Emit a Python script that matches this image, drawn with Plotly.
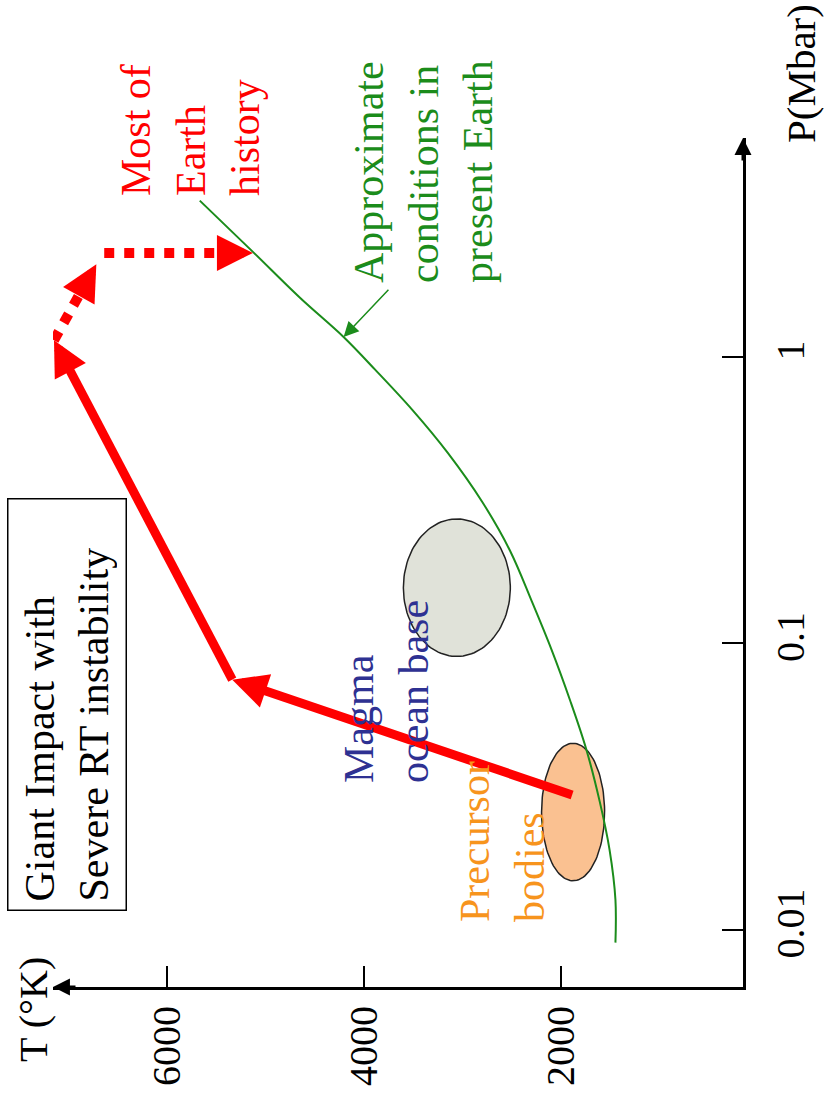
import numpy as np
import plotly.graph_objects as go

# ---- data -------------------------------------------------------------
# axis ticks: temperature (K) and pressure (Mbar, log scale)
t_ticks = [2000, 4000, 6000]
p_ticks = [0.01, 0.1, 1]
p_tick_text = ["0.01", "0.1", "1"]

# approximate conditions in the present Earth
present_T = [5670, 5120, 4650, 4210, 3890, 3510, 3150, 2800, 2520,
             2300, 2100, 1910, 1750, 1610, 1510, 1450, 1450]
present_P = [3.5, 2.3, 1.6, 1.17, 0.90, 0.65, 0.46, 0.31, 0.21,
             0.14, 0.095, 0.063, 0.043, 0.028, 0.019, 0.0127, 0.009]

# giant impact path: precursor bodies -> magma ocean base -> peak
impact_T = [1890, 5340, 7150]
impact_P = [0.0295, 0.0745, 1.14]
# afterwards (dotted)
rebound_T = [7150, 6720]
rebound_P = [1.14, 2.10]
cooling_T = [6640, 5130]
cooling_P = [2.30, 2.30]

# pointer from the green label to the curve
pointer_T = [3740, 4210]
pointer_P = [1.73, 1.17]

# regions: centre T, centre P, half-width in K, half-height in decades of P
precursor_region = dict(T=1880, P=0.0257, dT=320, dlogP=0.24)
magma_region = dict(T=3060, P=0.156, dT=543, dlogP=0.24)

# ---- layout constants -------------------------------------------------
W, H = 829, 1100
M_L, M_R, M_T, M_B = 53, 86, 138, 113
PW, PH = W - M_L - M_R, H - M_T - M_B
X_RANGE = [7160, 155]          # temperature increases to the left
Y_RANGE = [-2.2007, 0.7627]    # log10(P)

RED = "#ff0000"
GREEN = "#1b8c1b"
ORANGE = "#f7941d"
NAVY = "#2e3192"
FONT = "Liberation Serif"


def to_px(T, P):
    x = M_L + (T - X_RANGE[0]) / (X_RANGE[1] - X_RANGE[0]) * PW
    y = M_T + (Y_RANGE[1] - np.log10(P)) / (Y_RANGE[1] - Y_RANGE[0]) * PH
    return x, y


def from_px(x, y):
    T = X_RANGE[0] + (x - M_L) / PW * (X_RANGE[1] - X_RANGE[0])
    lp = Y_RANGE[1] - (y - M_T) / PH * (Y_RANGE[1] - Y_RANGE[0])
    return T, 10 ** lp


def shortened(T0, P0, T1, P1, back):
    """End point pulled back `back` pixels from (T1, P1) toward (T0, P0)."""
    x0, y0 = to_px(T0, P0)
    x1, y1 = to_px(T1, P1)
    L = np.hypot(x1 - x0, y1 - y0)
    f = 1 - back / L
    return from_px(x0 + f * (x1 - x0), y0 + f * (y1 - y0))


def head(T0, P0, T1, P1, color, width, size):
    """Arrowhead only, pointing from (T0, P0) to (T1, P1)."""
    x0, y0 = to_px(T0, P0)
    x1, y1 = to_px(T1, P1)
    L = np.hypot(x1 - x0, y1 - y0)
    return dict(x=T1, y=np.log10(P1), xref="x", yref="y", text="",
                showarrow=True, ax=(x0 - x1) / L * 20, ay=(y0 - y1) / L * 20,
                arrowhead=2, arrowsize=size, arrowwidth=width,
                arrowcolor=color)


def ellipse(region, n=120):
    t = np.linspace(0, 2 * np.pi, n)
    T = region["T"] + region["dT"] * np.cos(t)
    P = 10 ** (np.log10(region["P"]) + region["dlogP"] * np.sin(t))
    return T, P


fig = go.Figure()

# regions
for reg, fill in [(magma_region, "#e0e2d9"), (precursor_region, "#fac191")]:
    eT, eP = ellipse(reg)
    fig.add_trace(go.Scatter(x=eT, y=eP, mode="lines", fill="toself",
                             fillcolor=fill,
                             line=dict(color="#222222", width=1.5),
                             hoverinfo="skip"))

# present-Earth curve
fig.add_trace(go.Scatter(x=present_T, y=present_P, mode="lines",
                         line=dict(color=GREEN, width=2, shape="spline",
                                   smoothing=1.0),
                         hoverinfo="skip"))

# impact path: two solid legs, each ending under its arrowhead
annotations = []
for i in range(len(impact_T) - 1):
    Te, Pe = shortened(impact_T[i], impact_P[i],
                       impact_T[i + 1], impact_P[i + 1], 22)
    fig.add_trace(go.Scatter(x=[impact_T[i], Te], y=[impact_P[i], Pe],
                             mode="lines",
                             line=dict(color=RED, width=9),
                             hoverinfo="skip"))

# dotted legs
for Ts, Ps in [(rebound_T, rebound_P), (cooling_T, cooling_P)]:
    Te, Pe = shortened(Ts[0], Ps[0], Ts[1], Ps[1], 22)
    fig.add_trace(go.Scatter(x=[Ts[0], Te], y=[Ps[0], Pe], mode="lines",
                             line=dict(color=RED, width=10, dash="dot"),
                             hoverinfo="skip"))

# ---- text -------------------------------------------------------------
def label(text, xpx, ypx, color, size=42, **kw):
    d = dict(text=text, x=(xpx - M_L) / PW, y=(M_T + PH - ypx) / PH,
             xref="paper", yref="paper", xanchor="center", yanchor="middle",
             textangle=-90, showarrow=False, align="left",
             font=dict(family=FONT, size=size, color=color))
    d.update(kw)
    return d


annotations += [
    label("Most of<br>Earth<br>history", 191, 130, RED),
    label("Approximate<br>conditions in<br>present Earth", 424, 172, GREEN),
    label("Magma<br>ocean base", 386, 692, NAVY),
    label("Precursor<br>bodies", 502, 842, ORANGE),
    label("Giant Impact with<br>Severe RT instability", 67, 705, "black",
          bordercolor="black", borderwidth=1.5, borderpad=8, width=394),
    label("P(Mbar)", 801, 74, "black", size=41),
    label("T (°K)", 33, 1010, "black", size=40),
]

# arrowheads on the impact path
for i in range(len(impact_T) - 1):
    annotations.append(head(impact_T[i], impact_P[i], impact_T[i + 1],
                            impact_P[i + 1], RED, 9, 0.78))
for Ts, Ps in [(rebound_T, rebound_P), (cooling_T, cooling_P)]:
    annotations.append(head(Ts[0], Ps[0], Ts[1], Ps[1], RED, 9, 0.8))

# pointer to the present-Earth curve
annotations.append(dict(x=pointer_T[1], y=np.log10(pointer_P[1]),
                        ax=pointer_T[0], ay=np.log10(pointer_P[0]),
                        xref="x", yref="y", axref="x", ayref="y", text="",
                        showarrow=True, arrowhead=2, arrowsize=2,
                        arrowwidth=1.5, arrowcolor=GREEN))

# axis arrowheads
annotations.append(dict(x=0, y=0, xref="paper", yref="paper", text="",
                        showarrow=True, ax=24, ay=0, arrowhead=2,
                        arrowsize=1.13, arrowwidth=3, arrowcolor="black"))
annotations.append(dict(x=1, y=1, xref="paper", yref="paper", text="",
                        showarrow=True, ax=0, ay=24, arrowhead=2,
                        arrowsize=1.13, arrowwidth=3, arrowcolor="black"))

axis_style = dict(showgrid=False, zeroline=False, showline=True,
                  linecolor="black", linewidth=3, ticks="inside",
                  ticklen=21, tickwidth=1.5, tickcolor="black",
                  tickangle=-90, automargin=False,
                  tickfont=dict(family=FONT, size=40, color="black"))

fig.update_xaxes(range=X_RANGE, tickvals=t_ticks, ticklabelstandoff=0,
                 **axis_style)
fig.update_yaxes(type="log", range=Y_RANGE, side="right",
                 tickvals=p_ticks, ticktext=p_tick_text,
                 ticklabelstandoff=10, **axis_style)

fig.update_layout(width=W, height=H,
                  margin=dict(l=M_L, r=M_R, t=M_T, b=M_B, pad=0,
                              autoexpand=False),
                  paper_bgcolor="white", plot_bgcolor="white",
                  showlegend=False, annotations=annotations,
                  font=dict(family=FONT))

fig.write_html("out.html")
